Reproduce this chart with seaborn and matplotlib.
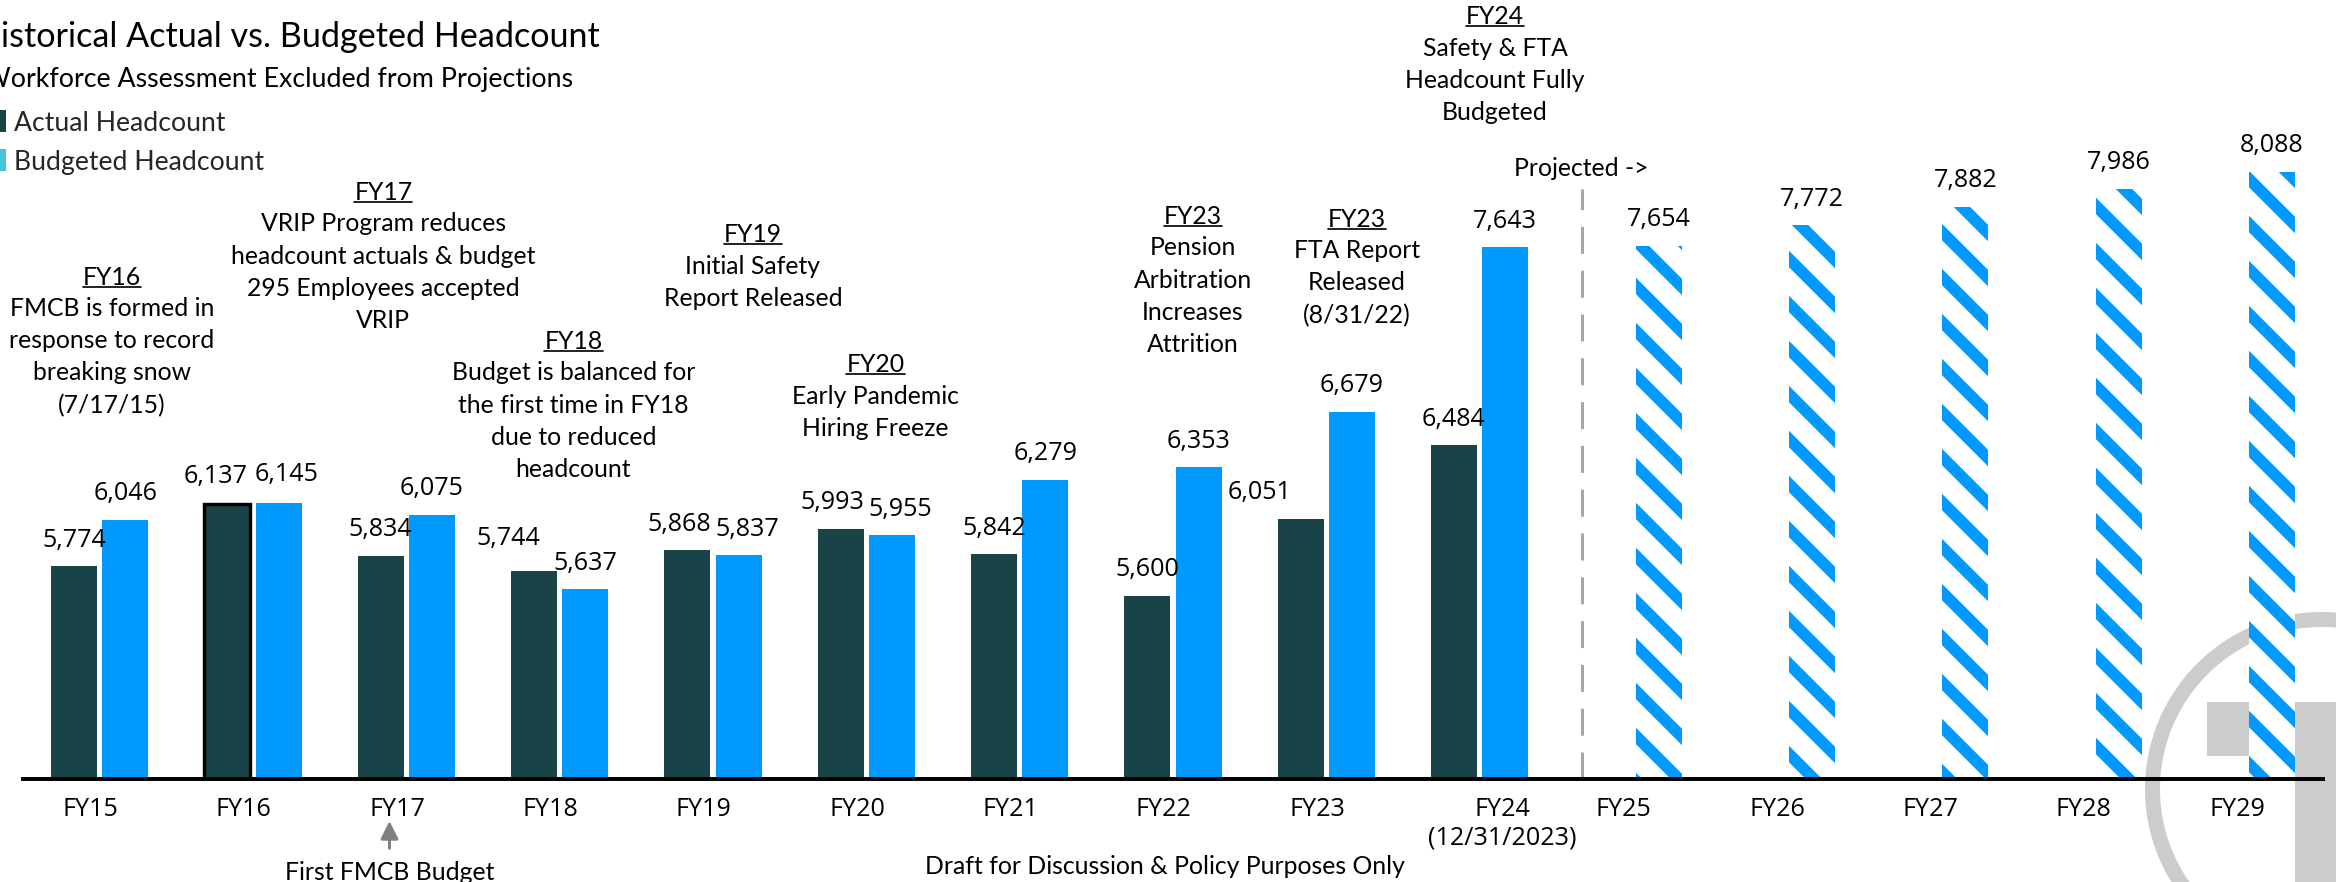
import numpy as np
import pandas as pd
import matplotlib
matplotlib.use("Agg")
import matplotlib.pyplot as plt
import matplotlib.transforms as mtransforms
from matplotlib.patches import Patch, Rectangle, Circle
from matplotlib.lines import Line2D
import seaborn as sns

# ---------------- data ----------------
years = ["FY15", "FY16", "FY17", "FY18", "FY19", "FY20", "FY21", "FY22",
         "FY23", "FY24", "FY25", "FY26", "FY27", "FY28", "FY29"]
hist_years = years[:10]
proj_years = years[10:]
actual = [5774, 6137, 5834, 5744, 5868, 5993, 5842, 5600, 6051, 6484]
budget = [6046, 6145, 6075, 5637, 5837, 5955, 6279, 6353, 6679, 7643]
projected = [7654, 7772, 7882, 7986, 8088]
tick_labels = ["FY15", "FY16", "FY17", "FY18", "FY19", "FY20", "FY21", "FY22",
               "FY23", "FY24\n(12/31/2023)", "FY25", "FY26", "FY27", "FY28", "FY29"]

event_heads = ["FY16", "FY17", "FY18", "FY19", "FY20", "FY23", "FY23", "FY24"]
event_bodies = [
    "FMCB is formed in\nresponse to record\nbreaking snow\n(7/17/15)",
    "VRIP Program reduces\nheadcount actuals & budget\n295 Employees accepted\nVRIP",
    "Budget is balanced for\nthe first time in FY18\ndue to reduced\nheadcount",
    "Initial Safety\nReport Released",
    "Early Pandemic\nHiring Freeze",
    "Pension\nArbitration\nIncreases\nAttrition",
    "FTA Report\nReleased\n(8/31/22)",
    "Safety & FTA\nHeadcount Fully\nBudgeted",
]

title = "Historical Actual vs. Budgeted Headcount"
subtitle = "Workforce Assessment Excluded from Projections"
series_names = ["Actual Headcount", "Budgeted Headcount"]
highlight_year = "FY16"

# ---------------- layout ----------------
DPI = 270
W, H = 2336, 883
C_ACT = "#1a4347"
C_BUD = "#0099ff"
C_LEG_BUD = "#45c3d8"
LINE_PX = 32  # baseline-to-baseline step of the event notes

# event block positions: x in category units, header baseline in px from top
event_x = [0.08, 1.85, 3.09, 4.26, 5.06, 7.13, 8.20, 9.10]
event_y = [285, 200, 349, 242, 372, 224, 227, 24]

# value-label nudges (points): (series, year) -> (dx, dy)
nudges = {
    ("Actual Headcount", "FY16"): (-3, 0.5),
    ("Budgeted Headcount", "FY16"): (2.2, 0.5),
    ("Actual Headcount", "FY18"): (-6.7, 1.8),
    ("Actual Headcount", "FY19"): (-2.2, 0),
    ("Budgeted Headcount", "FY19"): (2.2, 0),
    ("Actual Headcount", "FY20"): (-2.2, 0),
    ("Budgeted Headcount", "FY20"): (2.2, 0),
    ("Actual Headcount", "FY23"): (-11, 0),
}

sns.set_theme(style="white")
plt.rcParams["font.family"] = ["Lato", "DejaVu Sans"]
plt.rcParams["hatch.linewidth"] = 3.1

fig = plt.figure(figsize=(W / DPI, H / DPI), dpi=DPI)
ax = fig.add_axes([23 / W, 103 / H, 2300 / W, 780 / H])
ax.set_facecolor("none")

# long table for seaborn
df = pd.DataFrame({
    "year": hist_years * 2 + proj_years,
    "series": [series_names[0]] * len(hist_years) + [series_names[1]] * (len(hist_years) + len(proj_years)),
    "value": actual + budget + projected,
})

sns.barplot(data=df, x="year", y="value", hue="series", order=years,
            hue_order=series_names, palette={series_names[0]: C_ACT, series_names[1]: C_BUD},
            width=0.67, gap=0.1, errorbar=None, saturation=1, legend=False, ax=ax)

ax.set_xlim(-0.5, len(years) - 0.5)
ax.set_ylim(4525, 9100)

# style the bars and add value labels
for cont, name in zip(ax.containers, series_names):
    for bar in cont:
        cx = bar.get_x() + bar.get_width() / 2
        yr = years[int(round(cx))]
        val = bar.get_height()
        bar.set_linewidth(0)
        if yr in proj_years:
            bar.set_facecolor("white")
            bar.set_edgecolor(C_BUD)
            bar.set_hatch("\\\\")
        if name == series_names[0] and yr == highlight_year:
            bar.set_edgecolor("black")
            bar.set_linewidth(0.9)
        dx, dy = nudges.get((name, yr), (0, 0))
        ax.annotate(f"{val:,.0f}", (cx, val), xytext=(dx, 7.2 + dy),
                    textcoords="offset points", ha="center", va="center",
                    fontsize=6.7, family=["Open Sans", "DejaVu Sans"], color="black")

# axes cosmetics
for s in ["left", "right", "top"]:
    ax.spines[s].set_visible(False)
ax.spines["bottom"].set_color("black")
ax.spines["bottom"].set_linewidth(1.05)
ax.set_yticks([])
ax.set_xlabel("")
ax.set_ylabel("")
tick_pos = np.arange(len(years)) - 0.06
tick_pos[years.index("FY24")] += 0.21
ax.set_xticks(tick_pos, tick_labels)
ax.tick_params(axis="x", length=0, pad=4.5, labelsize=6.7, colors="black")
for lab in ax.get_xticklabels():
    lab.set_family(["Open Sans", "DejaVu Sans"])

# dashed divider between actual history and projections
n_hist = len(hist_years)
div_x = n_hist - 1 + 0.667
ax.axvline(div_x, ymin=0, ymax=(780 - 190) / 780, color="#a6a6a6", lw=0.8,
           dashes=(9, 5.6))

blend = mtransforms.blended_transform_factory(ax.transData, fig.transFigure)

# event annotations (header underlined, body below)
heads = []
for hx, hy, head, body in zip(event_x, event_y, event_heads, event_bodies):
    t = ax.text(hx, 1 - hy / H, head, transform=blend, ha="center", va="baseline",
                fontsize=6.6, color="black")
    heads.append((t, hy))
    n_lines = body.count("\n") + 1
    # multi-line text with va='baseline' sits on its last line
    ax.text(hx, 1 - (hy + LINE_PX * n_lines) / H, body, transform=blend, ha="center",
            va="baseline", multialignment="center", fontsize=6.6, linespacing=1.485,
            color="black")

ax.text(div_x - 0.44, 1 - 176 / H, "Projected ->", transform=blend, ha="left",
        va="baseline", fontsize=6.6, color="black")

# arrow note under FY17
ax.annotate("First FMCB Budget", xy=(1.89, 61), xycoords=("data", "figure pixels"),
            xytext=(1.89, 3), textcoords=("data", "figure pixels"),
            ha="center", va="baseline", fontsize=6.6, color="black",
            arrowprops=dict(arrowstyle="-|>,head_width=0.3,head_length=0.6",
                            color="#808080", lw=0.8, shrinkA=1, shrinkB=0))

fig.text(1165 / W, 1 - 874 / H, "Draft for Discussion & Policy Purposes Only",
         ha="center", va="baseline", fontsize=6.6, color="black")

# title block, cut at the left edge like the source slide
fig.text(-25 / W, 1 - 37 / H, title, ha="left", va="center", fontsize=9.1, color="black")
fig.text(-17 / W, 1 - 80 / H, subtitle, ha="left", va="center", fontsize=7.15, color="black")
handles = [Patch(facecolor=C_ACT, edgecolor="none"), Patch(facecolor=C_LEG_BUD, edgecolor="none")]
fig.legend(handles, series_names, loc="upper left", bbox_to_anchor=(-15 / W, 1 - 111 / H),
           frameon=False, fontsize=7.1, handlelength=0.8, handleheight=0.9,
           handletextpad=0.3, labelspacing=0.5, borderpad=0, borderaxespad=0)

# faded logo watermark behind the bars
logo_c = "#cccccc"
tr = fig.dpi_scale_trans
fig.add_artist(Circle((2322 / DPI, (H - 790) / DPI), 169.5 / DPI, fill=False,
                      edgecolor=logo_c, lw=15 * 72 / DPI, transform=tr, zorder=-1))
fig.add_artist(Rectangle((2207 / DPI, (H - 757) / DPI), 230 / DPI, 54 / DPI,
                         facecolor=logo_c, edgecolor="none", transform=tr, zorder=-1))
fig.add_artist(Rectangle((2295 / DPI, -10 / DPI), 54 / DPI, (H - 703 + 10) / DPI,
                         facecolor=logo_c, edgecolor="none", transform=tr, zorder=-1))

# underline the event headers
fig.canvas.draw()
for t, hy in heads:
    bb = t.get_window_extent()
    yb = H - hy - 2.5
    fig.add_artist(Line2D([bb.x0, bb.x1], [yb, yb], color="black", lw=0.45,
                          transform=mtransforms.IdentityTransform()))

fig.savefig("out.png", dpi=DPI)
